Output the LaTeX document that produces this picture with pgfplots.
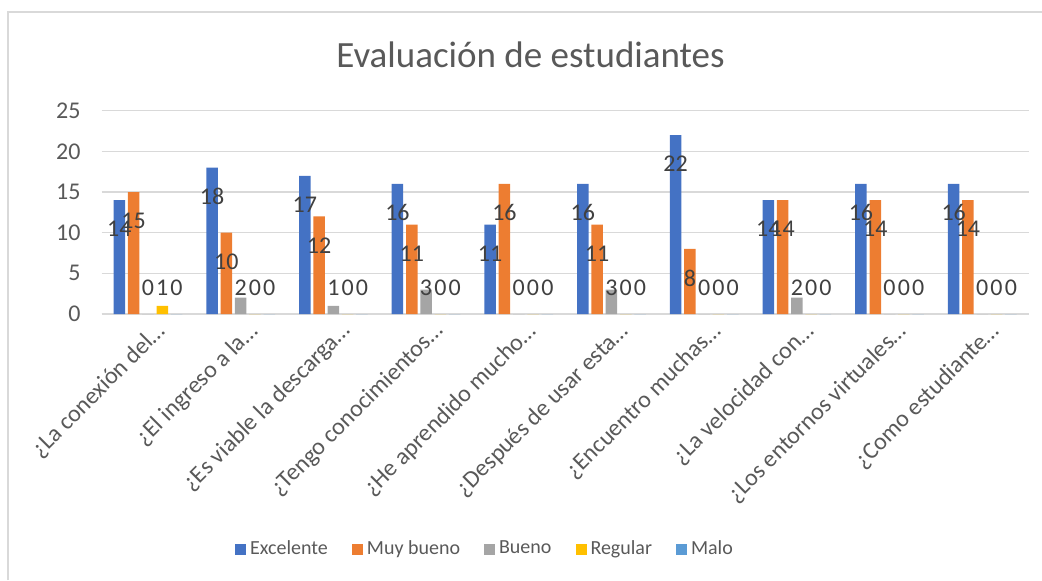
\documentclass[border=0pt]{standalone}
\usepackage{pgfplots}
\pgfplotsset{compat=1.18}
\usepackage{pgfplotstable}
\usepackage{fontspec}
\setmainfont{Carlito}
\definecolor{cExc}{HTML}{4472C4}
\definecolor{cMb}{HTML}{ED7D31}
\definecolor{cBue}{HTML}{A5A5A5}
\definecolor{cReg}{HTML}{FFC000}
\definecolor{cMal}{HTML}{5B9BD5}
\definecolor{txt}{HTML}{595959}
\definecolor{lbl}{HTML}{404040}
\definecolor{grd}{HTML}{D9D9D9}
\pgfplotstableread{
x exc mb bue reg mal
0 14 15 0 1 0
1 18 10 2 0 0
2 17 12 1 0 0
3 16 11 3 0 0
4 11 16 0 0 0
5 16 11 3 0 0
6 22 8 0 0 0
7 14 14 2 0 0
8 16 14 0 0 0
9 16 14 0 0 0
}\datatable
\begin{document}
\begin{tikzpicture}
\path[use as bounding box] (0,0) rectangle (521pt,290pt);
\draw[grd, line width=0.6pt] (4pt,0) -- (4pt,284pt) -- (521pt,284pt);
\begin{axis}[
  at={(50.8pt,133pt)}, anchor=south west,
  scale only axis, width=463.5pt, height=101.65pt,
  ybar=1.4pt, bar width=5.75pt,
  xmin=-0.5, xmax=9.5, ymin=0, ymax=25,
  xtick={0,...,9},
  xticklabels={{¿La conexión del…},{¿El ingreso a la…},{¿Es viable la descarga…},{¿Tengo conocimientos…},{¿He aprendido mucho…},{¿Después de usar esta…},{¿Encuentro muchas…},{¿La velocidad con…},{¿Los entornos virtuales…},{¿Como estudiante…}},
  ytick={0,5,...,25},
  axis line style={draw=none},
  tick style={draw=none},
  ymajorgrids, grid style={grd, line width=0.75pt},
  extra y ticks={0}, extra y tick labels={},
  extra y tick style={grid style={grd, line width=0.9pt}},
  /pgf/number format/assume math mode=true,
  yticklabel style={font=\fontsize{12}{14}\selectfont, text=txt, xshift=-7pt},
  xticklabel style={font=\fontsize{12}{14}\selectfont, text=txt, xshift=7pt, yshift=-2.5pt, rotate=45, anchor=east, inner sep=0pt},
  title={Evaluación de estudiantes},
  title style={at={(0.4627,1.2002)}, anchor=base, yshift=-4.5pt, font=\fontsize{18.5}{22}\selectfont, text=txt},
  legend columns=5,
  legend style={at={(0.4147,-1.156)}, anchor=center, draw=none, fill=none,
    font=\fontsize{10}{12}\selectfont, text=txt,
    /tikz/every even column/.append style={column sep=10pt}},
  legend image code/.code={\fill[#1] (0pt,-2.75pt) rectangle (5.5pt,2.75pt);},
  nodes near coords,
  visualization depends on=y \as \rawy,
  every node near coord/.append style={font=\fontsize{12}{14}\selectfont, text=lbl, anchor=center, inner sep=0pt,
    yshift={max(-14.5,(3.19-\rawy)*4.066)*1pt}},
]
\addplot[fill=cExc, draw=none] table[x=x, y=exc] {\datatable};
\addplot[fill=cMb, draw=none] table[x=x, y=mb] {\datatable};
\addplot[fill=cBue, draw=none] table[x=x, y=bue] {\datatable};
\addplot[fill=cReg, draw=none] table[x=x, y=reg] {\datatable};
\addplot[fill=cMal, draw=none] table[x=x, y=mal] {\datatable};
\legend{Excelente, Muy bueno, Bueno, Regular, Malo}
\end{axis}
\end{tikzpicture}
\end{document}
